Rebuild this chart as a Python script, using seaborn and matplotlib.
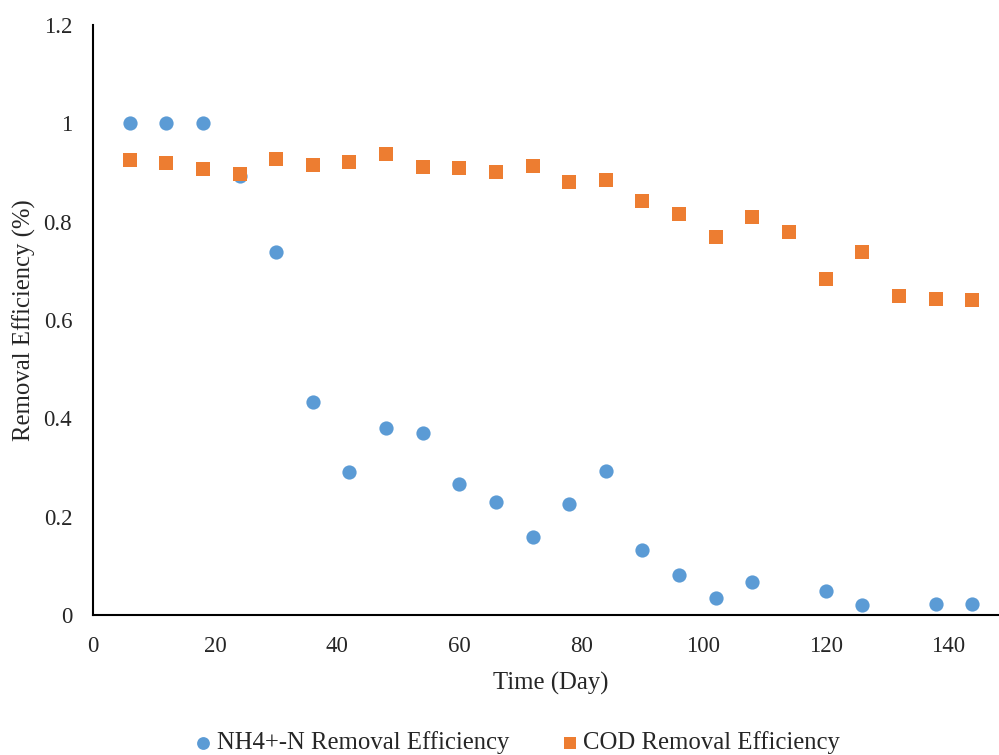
import numpy as np
import pandas as pd
import seaborn as sns
import matplotlib.pyplot as plt
from matplotlib.ticker import FuncFormatter

# Sampling days
days = [6, 12, 18, 24, 30, 36, 42, 48, 54, 60, 66, 72,
        78, 84, 90, 96, 102, 108, 114, 120, 126, 132, 138, 144]

# NH4+-N removal efficiency (no reading on day 114 and 132)
nh4_eff = [1.0, 1.0, 1.0, 0.892, 0.738, 0.434, 0.291, 0.381, 0.371, 0.267, 0.230, 0.160,
           0.226, 0.294, 0.133, 0.082, 0.036, 0.067, np.nan, 0.050, 0.021, np.nan, 0.023, 0.023]

# COD removal efficiency
cod_eff = [0.925, 0.919, 0.906, 0.896, 0.927, 0.915, 0.921, 0.938, 0.910, 0.909, 0.901, 0.913,
           0.881, 0.884, 0.842, 0.815, 0.768, 0.810, 0.779, 0.683, 0.738, 0.648, 0.643, 0.641]

x_ticks = [0, 20, 40, 60, 80, 100, 120, 140]
y_ticks = [0, 0.2, 0.4, 0.6, 0.8, 1.0, 1.2]

df = pd.DataFrame({'Day': days, 'NH4': nh4_eff, 'COD': cod_eff})

sns.set_style('white')
plt.rcParams['font.family'] = ['Liberation Serif', 'DejaVu Serif']
fs_tick = 16.5
fs_text = 17.8

fig = plt.figure(figsize=(9.99, 7.55), dpi=100)
ax = fig.add_axes([0.0931, 0.1848, 0.9069, 0.7827])

sns.scatterplot(x='Day', y='NH4', data=df.dropna(subset=['NH4']), ax=ax, color='#5B9BD5',
                marker='o', s=105, linewidth=0, label='NH4+-N Removal Efficiency')
sns.scatterplot(x='Day', y='COD', data=df, ax=ax, color='#ED7D31',
                marker='s', s=100, linewidth=0, label='COD Removal Efficiency')

ax.set_xlim(0, 148.4)
ax.set_ylim(0, 1.2)
ax.set_xticks(x_ticks)
ax.set_yticks(y_ticks)
ax.yaxis.set_major_formatter(FuncFormatter(lambda v, p: '%g' % round(v, 1)))
ax.tick_params(axis='both', length=0, labelsize=fs_tick)
ax.tick_params(axis='x', pad=15)
ax.tick_params(axis='y', pad=15)
for side in ['top', 'right']:
    ax.spines[side].set_visible(False)
for side in ['left', 'bottom']:
    ax.spines[side].set_color('black')
    ax.spines[side].set_linewidth(1.5)

ax.set_xlabel('Time (Day)', fontsize=fs_text, labelpad=11)
ax.set_ylabel('Removal Efficiency (%)', fontsize=fs_text, labelpad=5.5)
ax.xaxis.set_label_coords(0.5055, -0.095)

handles, labels = ax.get_legend_handles_labels()
ax.get_legend().remove()
fig.legend(handles, labels, loc='center', bbox_to_anchor=(0.519, 0.016), ncol=2,
           frameon=False, fontsize=fs_text, handlelength=0.5, handletextpad=0.3,
           columnspacing=2.2, markerscale=0.9)

plt.savefig('out.png', dpi=100)
